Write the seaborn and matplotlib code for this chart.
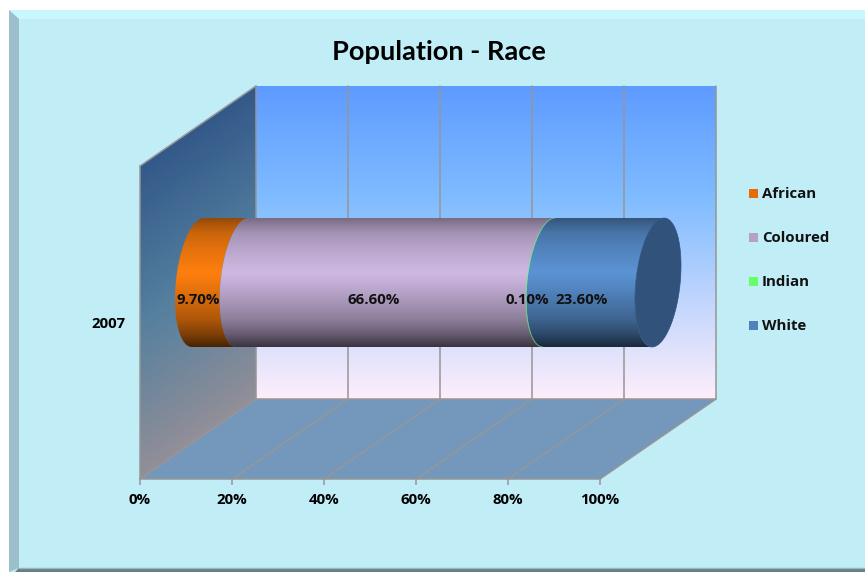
import numpy as np
import pandas as pd
import matplotlib
matplotlib.use("Agg")
import matplotlib.pyplot as plt
import seaborn as sns
from matplotlib.colors import LinearSegmentedColormap, to_rgb
from matplotlib.patches import Polygon, Rectangle
from matplotlib.ticker import PercentFormatter

# Population shares for the single reporting year
year = "2007"
races = ["African", "Coloured", "Indian", "White"]
shares = [9.7, 66.6, 0.1, 23.6]
value_labels = ["9.70%", "66.60%", "0.10%", "23.60%"]
race_colors = ["#ff7f0e", "#cfb9e3", "#66ff66", "#5b93d4"]
legend_colors = ["#e56c06", "#b5a0c6", "#66ff66", "#4f81bd"]
x_ticks = [0, 20, 40, 60, 80, 100]

W, H = 865, 572
FRONT_L, FRONT_R, FRONT_T, FRONT_B = 140, 600, 166, 479
DEPTH_X, DEPTH_Y = 116, 80
GRID = "#969696"
LABEL_SIZE = 10.8

sns.set_theme(style="white")
plt.rcParams["font.family"] = ["Open Sans", "DejaVu Sans"]
plt.rcParams["font.weight"] = "bold"

fig = plt.figure(figsize=(W / 100, H / 100), dpi=100, facecolor="white")

# Backdrop layer in pixel units: bevelled panel and the 3D box walls
bg = fig.add_axes([0, 0, 1, 1])
bg.set_xlim(0, W)
bg.set_ylim(H, 0)
bg.axis("off")

panel = "#c1edf6"
bg.add_patch(Rectangle((9, 10), W - 9, H - 10, fc=panel, ec="none"))
bg.add_patch(Polygon([(9, 10), (W, 10), (W, 19), (19, 19)], fc="#c9f6ff", ec="none"))
bg.add_patch(Polygon([(9, 10), (19, 19), (19, 568), (9, H)], fc="#9bc0cb", ec="none"))
bg.add_patch(Polygon([(19, 568), (W, 568), (W, H), (15, H)], fc="#66807f", ec="none"))
bg.plot([19, W], [568, 568], color="#93b9be", lw=1)


def gradient_fill(axes, values, stops, extent, clip_poly):
    cmap = LinearSegmentedColormap.from_list("", stops)
    im = axes.imshow(values, cmap=cmap, vmin=0, vmax=1, extent=extent,
                     aspect="auto", interpolation="bilinear", zorder=1)
    clip = Polygon(clip_poly, transform=axes.transData, fc="none", ec="none")
    axes.add_patch(clip)
    im.set_clip_box(fig.bbox)
    im.set_clip_path(clip)
    return im


back_l, back_r = FRONT_L + DEPTH_X, FRONT_R + DEPTH_X
back_t, back_b = FRONT_T - DEPTH_Y, FRONT_B - DEPTH_Y

# Back wall: vertical sky gradient
gradient_fill(bg, np.linspace(0, 1, 256)[:, None],
              [(0, "#5e9bff"), (0.36, "#80bcff"), (1, "#feeefb")],
              (back_l, back_r, back_b, back_t),
              [(back_l, back_t), (back_r, back_t), (back_r, back_b), (back_l, back_b)])

# Side wall: gradient running diagonally along the sheared plane
xx, yy = np.meshgrid(np.linspace(FRONT_L, back_l, 120), np.linspace(back_t, FRONT_B, 400))
wall_t = np.clip(((xx - FRONT_L) * DEPTH_Y / DEPTH_X + (yy - FRONT_T)) / (FRONT_B - back_t), 0, 1)
side = [(FRONT_L, FRONT_T), (back_l, back_t), (back_l, back_b), (FRONT_L, FRONT_B)]
gradient_fill(bg, wall_t, [(0, "#33598a"), (0.4, "#55809f"), (0.75, "#8b8d98"), (1, "#b39d9f")],
              (FRONT_L, back_l, FRONT_B, back_t), side)

# Floor
bg.add_patch(Polygon([(FRONT_L, FRONT_B), (FRONT_R, FRONT_B), (back_r, back_b), (back_l, back_b)],
                     fc="#7497bc", ec="none", zorder=1.5))

# Grid lines on the floor and the back wall, from the axis scale
for tick in x_ticks:
    fx = FRONT_L + (FRONT_R - FRONT_L) * tick / 100
    bg.plot([fx, fx + DEPTH_X, fx + DEPTH_X], [FRONT_B, back_b, back_t],
            color=GRID, lw=1.1, zorder=2, solid_joinstyle="miter")
bg.plot([back_l, back_r], [back_b, back_b], color=GRID, lw=1.1, zorder=2)
bg.plot([FRONT_L, back_l], [FRONT_T, back_t], color=GRID, lw=1.1, zorder=2)
bg.set_xlim(0, W)
bg.set_ylim(H, 0)

# Front plane axes: percentage scale along the bottom, category on the left
ax = fig.add_axes([FRONT_L / W, 1 - FRONT_B / H, (FRONT_R - FRONT_L) / W, (FRONT_B - FRONT_T) / H])
ax.patch.set_alpha(0)

cumulative = np.cumsum(shares)
df = pd.DataFrame({"year": [year] * len(races), "race": races, "cumulative": cumulative})
BAR_PX = 129
sns.barplot(data=df, x="cumulative", y="year", hue="race", hue_order=races[::-1],
            dodge=False, width=BAR_PX / (FRONT_B - FRONT_T), legend=False, ax=ax)

ux = (FRONT_R - FRONT_L) / 100
uy = FRONT_B - FRONT_T

# The stacked extents come from the bars; the visible cylinder is painted from them
extents = {}
for container, race in zip(ax.containers, races[::-1]):
    bar = container[0]
    extents[race] = bar.get_width()
    bar.set_visible(False)
    bar_top, bar_height = bar.get_y(), bar.get_height()

ax.set_xticks(x_ticks)
ax.xaxis.set_major_formatter(PercentFormatter(100, decimals=0))
ax.set_xlabel("")
ax.set_ylabel("")
for name, spine in ax.spines.items():
    spine.set_visible(name in ("bottom", "left"))
    spine.set_color(GRID)
    spine.set_linewidth(1.1)
ax.tick_params(axis="x", length=4, width=1.1, color=GRID, pad=6, labelsize=LABEL_SIZE, labelcolor="black", bottom=True)
ax.tick_params(axis="y", length=0, pad=10.5, labelsize=LABEL_SIZE, labelcolor="black")

# Cylinder sits halfway into the box depth
off_x = DEPTH_X / 2 / ux
off_y = -DEPTH_Y / 2 / uy
cy = bar_top + bar_height / 2 + off_y
b = bar_height / 2
ELL_A, ELL_S = 22.2 / ux, 6.0 / ux


def arc(cx, start, stop):
    t = np.linspace(start, stop, 80)
    return np.column_stack([cx + ELL_A * np.cos(t) - ELL_S * np.sin(t), cy + b * np.sin(t)])


shade = np.array([0.58, 0.7, 0.8, 0.9, 1.0, 0.93, 0.82, 0.69, 0.5, 0.28])
shade_pos = np.array([0, 0.06, 0.12, 0.25, 0.42, 0.52, 0.64, 0.78, 0.9, 1])
x_lo, x_hi = -20, 130
prev = 0
for race, color in zip(races, race_colors):
    stop = extents[race]
    x0, x1 = prev + off_x, stop + off_x
    outline = np.vstack([arc(x0, 1.5 * np.pi, 0.5 * np.pi), arc(x1, 0.5 * np.pi, 1.5 * np.pi)])
    rgb = np.array(to_rgb(color))
    stops = [(float(p), tuple(rgb * s)) for p, s in zip(shade_pos, shade)]
    gradient_fill(ax, np.linspace(0, 1, 256)[:, None], stops,
                  (x_lo, x_hi, cy + b, cy - b), outline)
    # A sliver narrower than a pixel still needs a visible edge
    if stop - prev < 1:
        edge = arc(x0, 0.5 * np.pi, 1.5 * np.pi)
        ax.plot(edge[:, 0], edge[:, 1], color=color, lw=0.7, zorder=1.2, alpha=0.45, clip_on=False)
    prev = stop

# End cap closing the cylinder on the right
ax.add_patch(Polygon(arc(prev + off_x, 0, 2 * np.pi), fc="#31527b", ec="#31527b", lw=0.5,
                     zorder=3, clip_on=False))
ax.set_xlim(0, 100)
ax.set_ylim(0.5, -0.5)

# Value labels, centred on each segment's visible front face
prev = 0
for race, label in zip(races, value_labels):
    stop = extents[race]
    mid = (prev + stop) / 2 + off_x - ELL_A
    ax.text(mid, cy + 17 / uy, label, ha="center", va="center", fontsize=LABEL_SIZE,
            color="#111111", zorder=5, clip_on=False)
    prev = stop

# Title and legend placed in pixel units
bg.text(439, 51.5, "Population - Race", ha="center", va="center", fontsize=19.6,
        family="Lato", weight="bold", color="black")
for i, (race, color) in enumerate(zip(races, legend_colors)):
    y = 193 + 44.3 * i
    bg.add_patch(Rectangle((749, y - 4.5), 9, 9, fc=color, ec="none"))
    bg.text(762, y + 0.5, race, ha="left", va="center", fontsize=LABEL_SIZE, color="#111111")

fig.savefig("out.png", dpi=100)
